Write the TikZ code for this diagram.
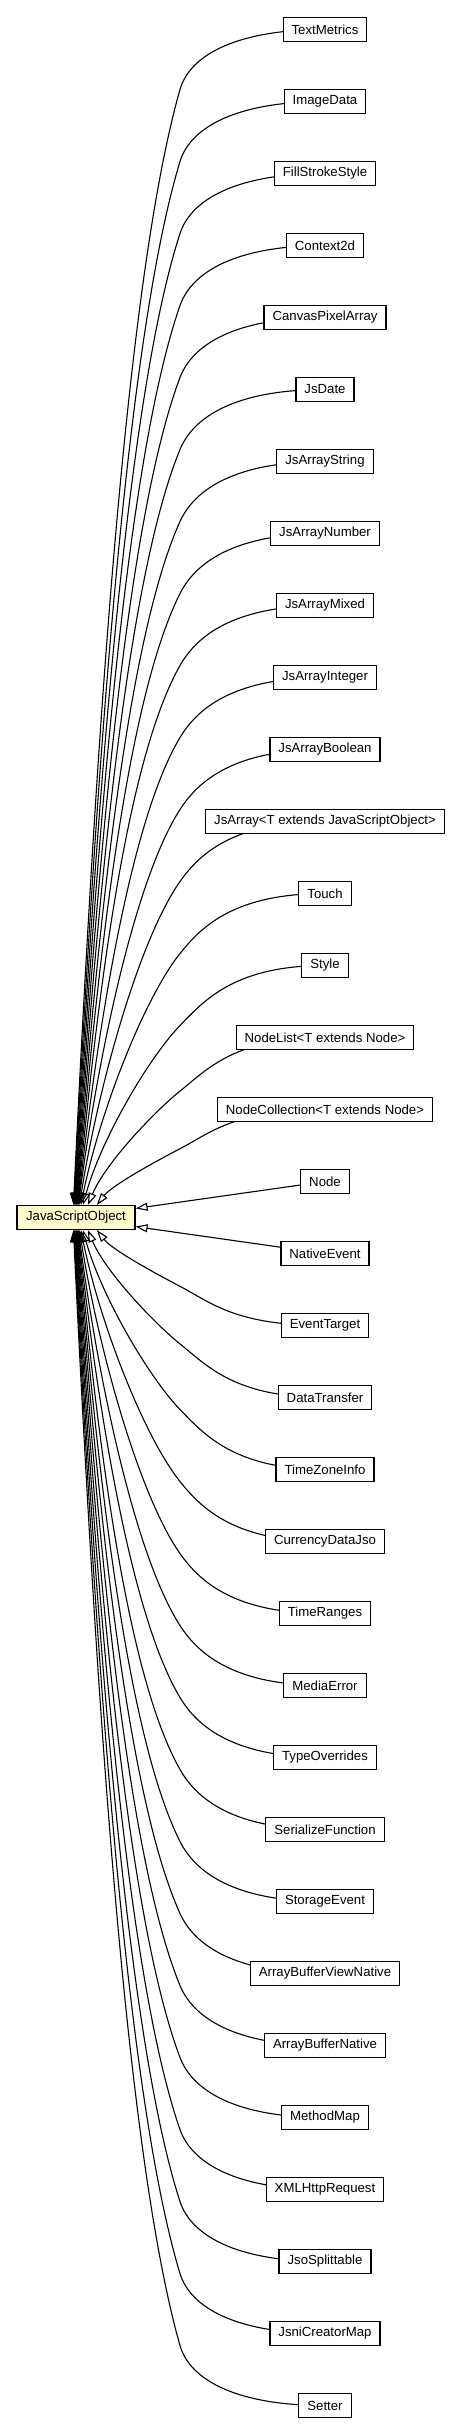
\documentclass[tikz,border=0pt]{standalone}
\usepackage{fontspec}
\setmainfont{Liberation Sans}
\usetikzlibrary{arrows.meta,calc}
\pgfdeclarelayer{edgelayer}
\pgfsetlayers{edgelayer,main}
\definecolor{rootfill}{HTML}{FFFACD}
\tikzset{
  cls/.style={draw=black, fill=white, line width=1.2bp, minimum height=24bp, inner xsep=8.5bp, inner ysep=0pt,
    font=\fontsize{13.2bp}{15bp}\selectfont},
  rootbox/.style={cls, fill=rootfill, minimum width=118bp, inner xsep=0pt},
  inherit/.style={draw=black, line width=1.1bp, -{Triangle[open, length=12bp, width=8bp]}}
}
% #1 index, #2 tip x, #3 sign (+1 above root, -1 below), #4 tip y, #5 root anchor
\newcommand\jsoedge[5]{%
  \pgfmathsetmacro\jeCy{29.5+72*#1}%
  \pgfmathsetmacro\jeD{#3*(#4-\jeCy)}%
  \pgfmathsetmacro\jeH{\jeD<200 ? 20+0.2*\jeD : 60}%
  \pgfmathsetmacro\jeKy{\jeCy+#3*\jeH}%
  \pgfmathsetmacro\jeL{\jeD-\jeH}%
  \pgfmathsetmacro\jeCh{(180-#2)/\jeL}%
  \pgfmathsetmacro\jeR{1+2*min(1,\jeD/600)}%
  \pgfmathsetmacro\jeS{\jeR*\jeCh}%
  \pgfmathsetmacro\jeE{0.5*\jeCh}%
  \pgfmathsetmacro\jeN{sqrt(1+\jeS*\jeS)}%
  \pgfmathsetmacro\jePbx{180+35*\jeS/\jeN}%
  \pgfmathsetmacro\jePby{\jeKy-#3*35/\jeN}%
  \pgfmathsetmacro\jeQax{180-0.18*\jeL*\jeS}%
  \pgfmathsetmacro\jeQay{\jeKy+#3*0.18*\jeL}%
  \pgfmathsetmacro\jeQbx{#2+0.37*\jeL*\jeE}%
  \pgfmathsetmacro\jeQby{#4-#3*0.37*\jeL}%
  \pgfmathsetmacro\jeDx{#2-17}%
  \draw[inherit] (c#1.center) .. controls (235,\jeCy) and (\jePbx,\jePby) .. (180,\jeKy)
     .. controls (\jeQax,\jeQay) and (\jeQbx,\jeQby) .. ($(root.#5)+(\jeDx,0)$);%
}
\begin{document}
\begin{tikzpicture}[x=1bp, y=-1bp]
\useasboundingbox (0,0) rectangle (461,2435);
\node[rootbox] (root) at (76,1217.5) {JavaScriptObject};
\foreach \i/\lab in {0/TextMetrics, 1/ImageData, 2/FillStrokeStyle, 3/Context2d,
  4/CanvasPixelArray, 5/JsDate, 6/JsArrayString, 7/JsArrayNumber, 8/JsArrayMixed,
  9/JsArrayInteger, 10/JsArrayBoolean, 11/JsArray<T extends JavaScriptObject>, 12/Touch,
  13/Style, 14/NodeList<T extends Node>, 15/NodeCollection<T extends Node>, 16/Node,
  17/NativeEvent, 18/EventTarget, 19/DataTransfer, 20/TimeZoneInfo, 21/CurrencyDataJso,
  22/TimeRanges, 23/MediaError, 24/TypeOverrides, 25/SerializeFunction, 26/StorageEvent,
  27/ArrayBufferViewNative, 28/ArrayBufferNative, 29/MethodMap, 30/XMLHttpRequest,
  31/JsoSplittable, 32/JsniCreatorMap, 33/Setter}
  \node[cls] (c\i) at (325, 29.5+72*\i) {\lab};
\begin{pgfonlayer}{edgelayer}
\foreach \i/\tx in {0/74, 1/74.5, 2/75, 3/75.5, 4/76, 5/76.5, 6/77, 7/77.5, 8/78, 9/78.5,
  10/79, 11/80, 12/81.5, 13/83.5, 14/88.5, 15/97.5}
  {\jsoedge{\i}{\tx}{1}{1205.5}{north west}}
\foreach \i/\tx in {18/97.5, 19/88.5, 20/83.5, 21/81.5, 22/80, 23/79, 24/78.5, 25/78,
  26/77.5, 27/77, 28/76.5, 29/76, 30/75.5, 31/75, 32/74.5, 33/74}
  {\jsoedge{\i}{\tx}{-1}{1229.5}{south west}}
\draw[inherit] (c16) -- ($(root.north east)+(0,3.5)$);
\draw[inherit] (c17) -- ($(root.south east)+(0,-3.5)$);
\end{pgfonlayer}
\end{tikzpicture}
\end{document}
